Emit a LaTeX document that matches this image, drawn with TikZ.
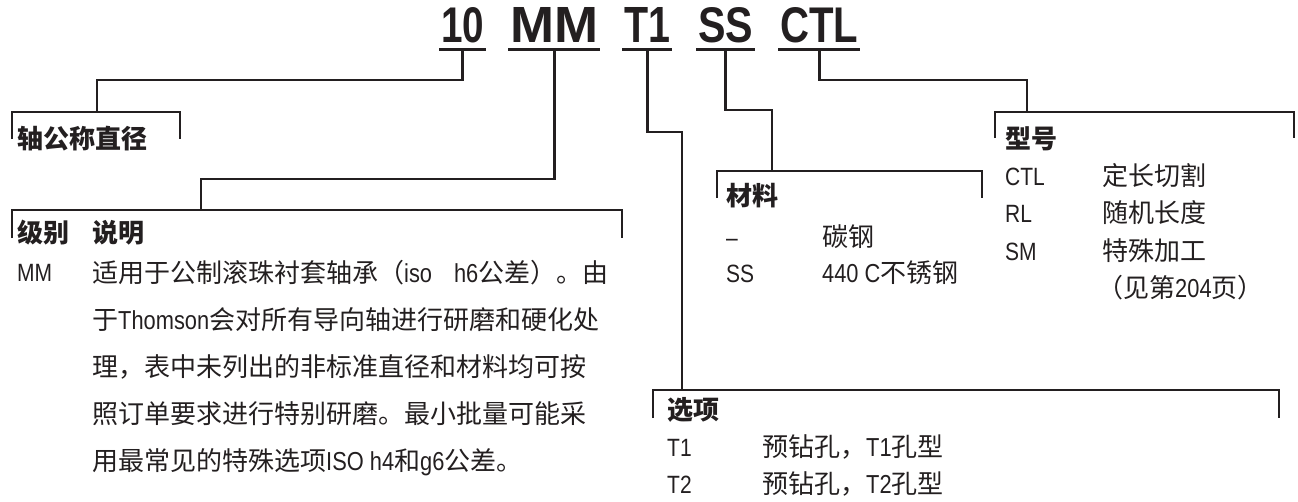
\documentclass[tikz,border=0pt]{standalone}
\usepackage{fontspec}
\usepackage{graphicx}
\setmainfont{Liberation Sans}
\newfontfamily\cjk{Noto Sans CJK SC}
\newfontfamily\latf{Liberation Sans}[FakeStretch=0.84]
\newfontfamily\titlef{Liberation Sans}[FakeStretch=0.85]
\newcommand\lat[1]{{\latf #1}}
\definecolor{ink}{HTML}{231F20}
\tikzset{
  txt/.style={inner sep=0pt, anchor=base west, text=ink, font=\cjk\fontsize{26pt}{30pt}\selectfont},
  hdr/.style={txt, font=\cjk\bfseries\fontsize{26pt}{30pt}\selectfont},
  lbl/.style={txt, font=\latf\fontsize{25pt}{29pt}\selectfont},
  word/.style={inner sep=0pt, anchor=south west, text=ink, font=\titlef\bfseries},
  conn/.style={draw=ink, line width=2.6pt},
  brk/.style={draw=ink, line width=2.6pt},
  uline/.style={draw=ink, line width=2.6pt}
}
\begin{document}
\begin{tikzpicture}[x=1pt,y=-1pt]
\useasboundingbox (0,0) rectangle (1298,501);

% title words
\node[word] (t10)  at (441,43) {\resizebox{43pt}{35pt}{10}};
\node[word] (tMM)  at (510,43) {\resizebox{88pt}{35pt}{MM}};
\node[word] (tT1)  at (624,43) {\resizebox{46pt}{35pt}{T1}};
\node[word] (tSS)  at (698,43) {\resizebox{55pt}{35pt}{SS}};
\node[word] (tCTL) at (780,43) {\resizebox{78pt}{35pt}{CTL}};
\foreach \w in {t10,tMM,tT1,tSS,tCTL}{
  \draw[uline] ([xshift=-2pt,yshift=-6.5pt]\w.south west) -- ([xshift=2pt,yshift=-6.5pt]\w.south east);
  \coordinate (u\w) at ([yshift=-8pt]\w.south);
}

% brackets
\draw[brk] (12,139) |- (180,112) -- (180,139);
\draw[brk] (12,238) |- (622,210) -- (622,238);
\draw[brk] (717,198) |- (982,171) -- (982,198);
\draw[brk] (995,138) |- (1294,112) -- (1294,138);
\draw[brk] (653,418) |- (1279,390) -- (1279,418);
\coordinate (b1) at (97,112);
\coordinate (b2) at (201,210);
\coordinate (b3) at (772,171);
\coordinate (b4) at (1027,112);
\coordinate (b5) at (682,390);

% connectors
\draw[conn] (ut10) -- ++(0,29) -| (b1);
\draw[conn] (utMM) -- ++(0,128) -| (b2);
\draw[conn] (utT1) -- ++(0,81) -| (b5);
\draw[conn] (utSS) -- ++(0,59) -| (b3);
\draw[conn] (utCTL) -- ++(0,29) -| (b4);

% shaft diameter
\node[hdr] (h1) at (17,148) {轴公称直径};

% grade
\node[hdr] (h2a) at (17,242) {级别};
\node[hdr] (h2b) at (92,242) {说明};
\node[lbl] (mMM) at (17,281.5) {MM};
\node[txt] (d1) at (92,282) {适用于公制滚珠衬套轴承（\lat{iso}\hspace{22pt}\lat{h6}公差）。由};
\node[txt] (d2) at (92,329) {于\lat{Thomson}会对所有导向轴进行研磨和硬化处};
\node[txt] (d3) at (92,376) {理，表中未列出的非标准直径和材料均可按};
\node[txt] (d4) at (92,423) {照订单要求进行特别研磨。最小批量可能采};
\node[txt] (d5) at (92,470) {用最常见的特殊选项\lat{ISO h4}和\lat{g6}公差。};

% material
\node[hdr] (h3) at (726,205.5) {材料};
\node[lbl] (m1) at (726,246.5) {–};
\node[txt] (m1d) at (822,246.5) {碳钢};
\node[lbl] (m2) at (726,282.5) {SS};
\node[txt] (m2d) at (822,282.5) {\lat{440 C}不锈钢};

% type
\node[hdr] (h4) at (1005,148.5) {型号};
\node[lbl] (y1) at (1005,185.5) {CTL};
\node[txt] (y1d) at (1102,185.5) {定长切割};
\node[lbl] (y2) at (1005,222.5) {RL};
\node[txt] (y2d) at (1102,222.5) {随机长度};
\node[lbl] (y3) at (1005,260) {SM};
\node[txt] (y3d) at (1102,260) {特殊加工};
\node[txt] (y4d) at (1097,297.5) {（见第\lat{204}页）};

% options
\node[hdr] (h5) at (667,419.5) {选项};
\node[lbl] (o1) at (667,456.5) {T1};
\node[txt] (o1d) at (762,456.5) {预钻孔，\lat{T1}孔型};
\node[lbl] (o2) at (667,493.5) {T2};
\node[txt] (o2d) at (762,493.5) {预钻孔，\lat{T2}孔型};
\end{tikzpicture}
\end{document}
